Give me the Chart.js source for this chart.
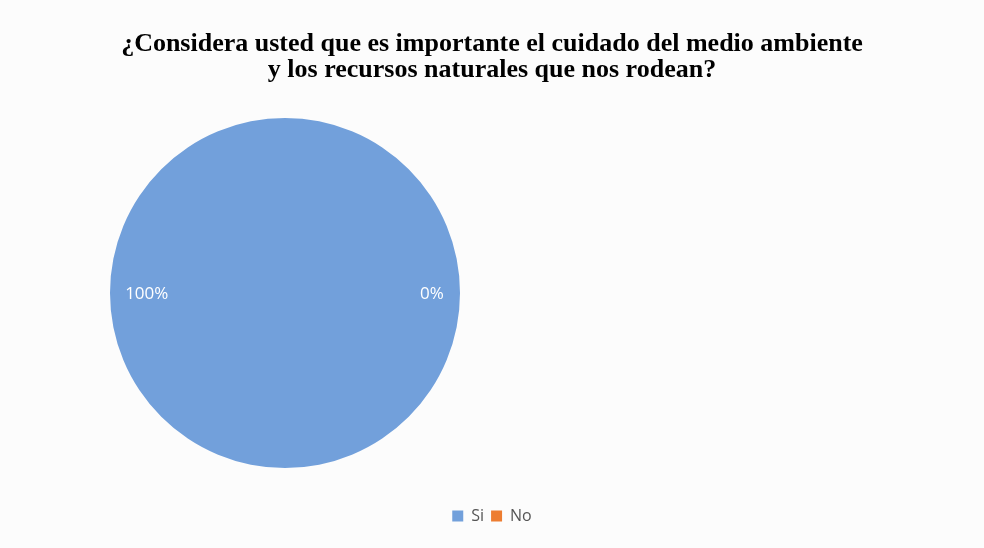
<!DOCTYPE html>
<html>
<head>
<meta charset="utf-8">
<script src="https://cdn.jsdelivr.net/npm/chart.js@4/dist/chart.umd.min.js"></script>
<style>
  html, body { margin: 0; padding: 0; background: #fcfcfc; }
  #wrap { width: 984px; height: 548px; position: relative; }
</style>
</head>
<body>
<div id="wrap"><canvas id="pie-chart"></canvas></div>
<script>
// ===================== DATA =====================
const categories = ['Si', 'No'];
const percentValues = [100, 0];
const percentLabels = ['100%', '0%'];
const titleLines = ['¿Considera usted que es importante el cuidado del medio ambiente', 'y los recursos naturales que nos rodean?'];
const sliceColors = ['#72a0db', '#ed7d31'];

// the excel chart keeps the pie on the left side, title + legend stay centered on the whole width
const pieBox = { left: 110, top: 118, size: 350 };

const pieArea = {
  id: 'pieArea',
  afterLayout(chart) {
    const a = chart.chartArea;
    a.left = pieBox.left;
    a.top = pieBox.top;
    a.right = pieBox.left + pieBox.size;
    a.bottom = pieBox.top + pieBox.size;
    a.width = pieBox.size;
    a.height = pieBox.size;
  }
};

// labels inside the pie, left for the first slice, right for the other one
const pieLabels = {
  id: 'pieLabels',
  afterDatasetsDraw(chart) {
    const ctx = chart.ctx;
    const arcs = chart.getDatasetMeta(0).data;
    ctx.save();
    ctx.font = '17px "Open Sans", sans-serif';
    ctx.fillStyle = '#ffffff';
    ctx.textAlign = 'center';
    ctx.textBaseline = 'middle';
    for (let i = 0; i < arcs.length; i++) {
      let arc = arcs[i];
      let dir = i === 0 ? -1 : 1;
      let off = i === 0 ? 0.79 : 0.84;
      ctx.fillText(percentLabels[i], arc.x + dir * arc.outerRadius * off, arc.y + 1);
    }
    ctx.restore();
  }
};

const ctx = document.getElementById('pie-chart').getContext('2d');
const myChart = new Chart(ctx, {
  type: 'pie',
  data: {
    labels: categories,
    datasets: [{
      data: percentValues,
      backgroundColor: sliceColors,
      borderWidth: 0
    }]
  },
  options: {
    responsive: true,
    maintainAspectRatio: false,
    animation: false,
    layout: { padding: { left: 0, right: 0, top: 0, bottom: 14 } },
    plugins: {
      title: {
        display: true,
        text: titleLines,
        color: '#000000',
        font: { family: '"Liberation Serif", serif', size: 26, weight: 'bold', lineHeight: 1.0 },
        padding: { top: 31, bottom: 11 }
      },
      legend: {
        position: 'bottom',
        labels: {
          boxWidth: 11,
          boxHeight: 11,
          color: '#555555',
          font: { family: '"Open Sans", sans-serif', size: 16 },
          padding: 7
        }
      },
      tooltip: { enabled: false }
    }
  },
  plugins: [pieArea, pieLabels]
});
</script>
</body>
</html>
